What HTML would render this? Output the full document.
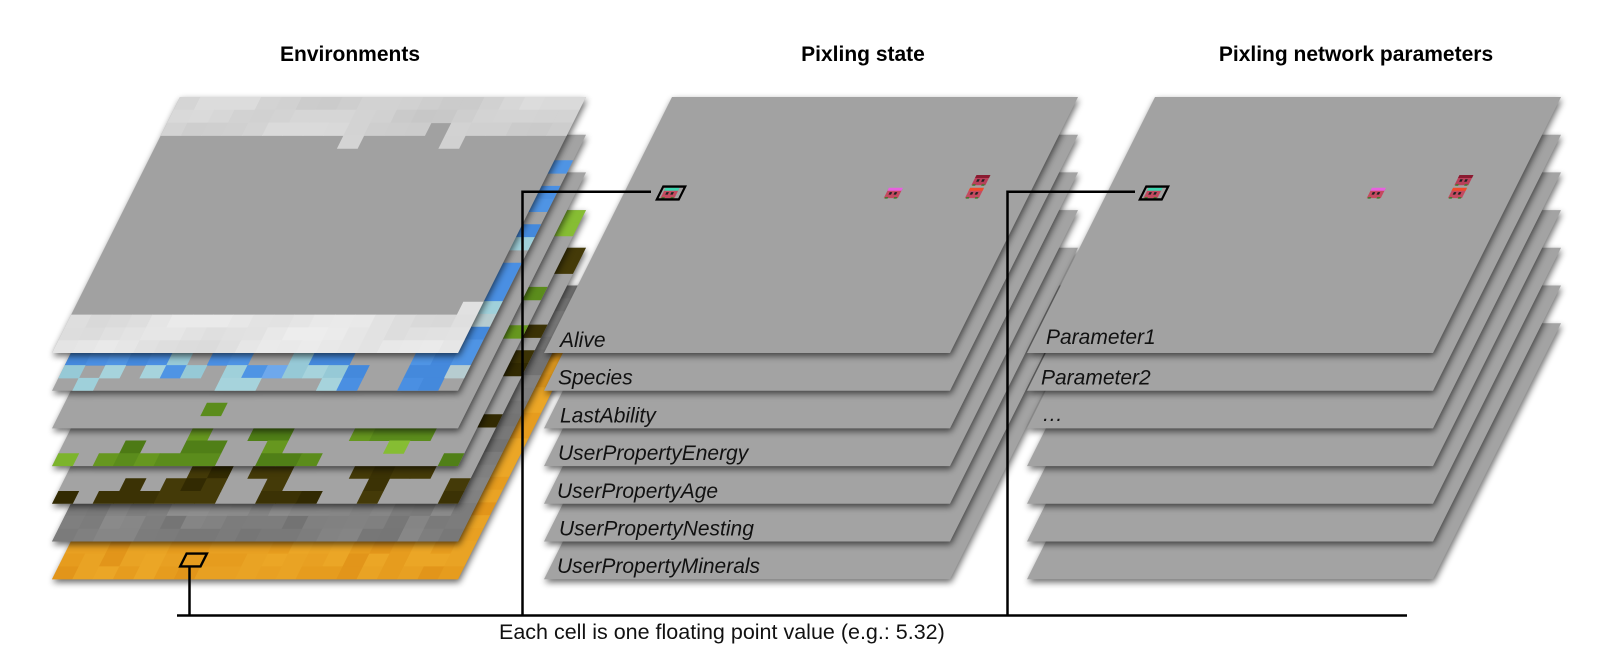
<!DOCTYPE html>
<html><head><meta charset="utf-8">
<style>
html,body{margin:0;padding:0;background:#fff;}
svg{display:block;}
text{font-family:"Liberation Sans",Arial,sans-serif;}
.t{font-weight:bold;font-size:21px;text-anchor:middle;fill:#000;}
.l{font-style:italic;font-size:21px;fill:#111;}
</style></head><body>
<svg width="1600" height="671" viewBox="0 0 1600 671">
<defs>
<filter id="ds" x="-15%" y="-15%" width="135%" height="140%" color-interpolation-filters="sRGB">
<feGaussianBlur in="SourceAlpha" stdDeviation="3.5"/>
<feOffset dx="1" dy="3" result="o"/>
<feComponentTransfer in="o" result="s"><feFuncA type="linear" slope="0.6"/></feComponentTransfer>
<feMerge><feMergeNode in="s"/><feMergeNode in="SourceGraphic"/></feMerge>
</filter>
</defs>
<rect width="1600" height="671" fill="#fff"/>

<!-- Environments stack -->
<g filter="url(#ds)"><g id="e6" transform="matrix(1,0,-0.5,1,180,323.2)"><rect width="406" height="256" fill="#e59e21"/></g></g>
<g filter="url(#ds)"><g id="e5" transform="matrix(1,0,-0.5,1,180,285.5)"><rect width="406" height="256" fill="#7e7e7e"/></g></g>
<g filter="url(#ds)"><g id="e4" transform="matrix(1,0,-0.5,1,180,247.8)"><rect width="406" height="256" fill="#a3a3a3"/></g></g>
<g filter="url(#ds)"><g id="e3" transform="matrix(1,0,-0.5,1,180,210.1)"><rect width="406" height="256" fill="#a3a3a3"/></g></g>
<g filter="url(#ds)"><g id="e2" transform="matrix(1,0,-0.5,1,180,172.4)"><rect width="406" height="256" fill="#a3a3a3"/></g></g>
<g filter="url(#ds)"><g id="e1" transform="matrix(1,0,-0.5,1,180,134.7)"><rect width="406" height="256" fill="#a3a3a3"/></g></g>
<g filter="url(#ds)"><g id="e0" transform="matrix(1,0,-0.5,1,180,97)"><rect width="406" height="256" fill="#a1a1a1"/></g></g>

<!-- Pixling state stack -->
<g filter="url(#ds)"><g transform="matrix(1,0,-0.5,1,672,323.2)"><rect width="406" height="256" fill="#a3a3a3"/></g></g>
<g filter="url(#ds)"><g transform="matrix(1,0,-0.5,1,672,285.5)"><rect width="406" height="256" fill="#a3a3a3"/></g></g>
<g filter="url(#ds)"><g transform="matrix(1,0,-0.5,1,672,247.8)"><rect width="406" height="256" fill="#a3a3a3"/></g></g>
<g filter="url(#ds)"><g transform="matrix(1,0,-0.5,1,672,210.1)"><rect width="406" height="256" fill="#a3a3a3"/></g></g>
<g filter="url(#ds)"><g transform="matrix(1,0,-0.5,1,672,172.4)"><rect width="406" height="256" fill="#a3a3a3"/></g></g>
<g filter="url(#ds)"><g transform="matrix(1,0,-0.5,1,672,134.7)"><rect width="406" height="256" fill="#a3a3a3"/></g></g>
<g filter="url(#ds)"><g id="p0" transform="matrix(1,0,-0.5,1,672,97)"><rect width="406" height="256" fill="#a2a2a2"/>
<rect x="36" y="89.6" width="22" height="12.8" fill="none" stroke="#000" stroke-width="2.4"/></g></g>

<g class="l">
<text class="l" x="560" y="347">Alive</text>
<text class="l" x="558" y="384.7">Species</text>
<text class="l" x="560" y="422.4">LastAbility</text>
<text class="l" x="558" y="460.1">UserPropertyEnergy</text>
<text class="l" x="557" y="497.8">UserPropertyAge</text>
<text class="l" x="559" y="535.5">UserPropertyNesting</text>
<text class="l" x="557" y="573.2">UserPropertyMinerals</text>
</g>

<!-- Pixling network parameters stack -->
<g filter="url(#ds)"><g transform="matrix(1,0,-0.5,1,1155,323.2)"><rect width="406" height="256" fill="#a3a3a3"/></g></g>
<g filter="url(#ds)"><g transform="matrix(1,0,-0.5,1,1155,285.5)"><rect width="406" height="256" fill="#a3a3a3"/></g></g>
<g filter="url(#ds)"><g transform="matrix(1,0,-0.5,1,1155,247.8)"><rect width="406" height="256" fill="#a3a3a3"/></g></g>
<g filter="url(#ds)"><g transform="matrix(1,0,-0.5,1,1155,210.1)"><rect width="406" height="256" fill="#a3a3a3"/></g></g>
<g filter="url(#ds)"><g transform="matrix(1,0,-0.5,1,1155,172.4)"><rect width="406" height="256" fill="#a3a3a3"/></g></g>
<g filter="url(#ds)"><g transform="matrix(1,0,-0.5,1,1155,134.7)"><rect width="406" height="256" fill="#a3a3a3"/></g></g>
<g filter="url(#ds)"><g id="q0" transform="matrix(1,0,-0.5,1,1155,97)"><rect width="406" height="256" fill="#a2a2a2"/>
<rect x="36" y="89.6" width="22" height="12.8" fill="none" stroke="#000" stroke-width="2.4"/></g></g>

<text class="l" x="1046" y="344">Parameter1</text>
<text class="l" x="1041" y="384.5">Parameter2</text>
<text class="l" x="1042" y="421">…</text>

<!-- Titles -->
<text class="t" x="350" y="61">Environments</text>
<text class="t" x="863" y="61">Pixling state</text>
<text class="t" x="1356" y="61">Pixling network parameters</text>

<!-- Env cell marker -->
<polygon points="186.6,553.6 206.9,553.6 200.5,566.4 180.2,566.4" fill="none" stroke="#000" stroke-width="2.4" stroke-linejoin="miter"/>

<!-- Connectors -->
<path d="M189.5 567 V615.5 M177 615.5 H1407 M522.5 615.5 V191.8 H651 M1007.5 615.5 V191.8 H1135" fill="none" stroke="#000" stroke-width="2.5"/>

<text x="499" y="639" font-size="21.5" fill="#111">Each cell is one floating point value (e.g.: 5.32)</text>
</svg>
<script>
(function(){
var CW=20.3,RH=12.8;
function hs(a,b,c){var x=(a*73856093)^(b*19349663)^(c*83492791);x=Math.imul(x^(x>>>15),2246822519|0);x=Math.imul(x^(x>>>13),3266489917|0);x^=x>>>16;return (x>>>0)/4294967296;}
function cell(c,r,col){var x=c*CW,y=r*RH,w=CW+(c<19?0.5:0),h=RH+(r<19?0.5:0);return '<rect x="'+x.toFixed(2)+'" y="'+y.toFixed(2)+'" width="'+w.toFixed(2)+'" height="'+h.toFixed(2)+'" fill="'+col+'"/>';}
function g(v){v=Math.max(0,Math.min(255,Math.round(v)));var s=v.toString(16);if(s.length<2)s='0'+s;return '#'+s+s+s;}
function add(id,html){var el=document.getElementById(id);var box=el.querySelector('rect[stroke]');if(box){box.insertAdjacentHTML('beforebegin',html);}else{el.insertAdjacentHTML('beforeend',html);}}
var r,c,s;
/* layer 0 clouds */
s='';
for(r=0;r<20;r++)for(c=0;c<20;c++){
 var cl=(r<=2&&!(r==2&&c==13))||r>=17||(r==3&&(c==9||c==14))||(r==16&&c==19);
 if(!cl)continue;
 var n=Math.sin(c*0.8+r*1.3)*0.5+Math.sin(c*0.37-r*0.9+1)*0.5;
 var v=(r<10)?(210+10*n+4*(hs(c,r,1)-0.5)):(228+10*n+4*(hs(c,r,2)-0.5));
 s+=cell(c,r,g(v));
}
add('e0',s);
var P={'B':['#4a8fe2','#4f94e4','#4489dc'],'b':['#6ea8ec'],'C':['#9fd0da','#a6d3dc','#96c9d6'],'P':['#b6ccd0'],
'G':['#5b8c1c','#66971f','#507f17'],'g':['#7cb42c','#86bd33'],'d':['#4d7a15'],'D':['#3b3205','#322a02','#443a08']};
var L={
e1:{r:["BBBBBC.BB..CBB...BBB","C.C.CBC.CBbCCCB..BBP",".C......CC...CB..BB."],c:"..B.BB.BC.BBBCPBB"},
e2:{r:["....................",".......G............","...................."],c:"................."},
e3:{r:["......G..GG...GGGG..","...d..GG..G.....g...","g.GGGGGG..GGG......G"],c:"gg....G..G......."},
e4:{r:["......DD.DD...DDDD..","...D.DDD..D....D...D","D.DDDDDD..DDD..D...D"],c:"DD....D.DD...D..."}
};
for(var id in L){
 s='';var d=L[id],k=parseInt(id.charAt(1));
 for(var i=0;i<3;i++)for(c=0;c<20;c++){var ch=d.r[i].charAt(c);if(ch!='.'){var a=P[ch];s+=cell(c,17+i,a[Math.floor(hs(c,17+i,k)*a.length)]);}}
 for(r=0;r<17;r++){var ch2=d.c.charAt(r);if(ch2!='.'){var a2=P[ch2];s+=cell(19,r,a2[Math.floor(hs(19,r,k)*a2.length)]);}}
 add(id,s);
}
/* stone layer */
s='';
for(r=0;r<20;r++)for(c=0;c<20;c++){s+=cell(c,r,g(126+24*(hs(c,r,5)-0.5)+(r==17?6:0)));}
add('e5',s);
/* orange layer */
var O=['#e69c1e','#e9a324','#e2951a','#e8a022','#eba626'];
s='';
for(r=0;r<20;r++)for(c=0;c<20;c++){s+=cell(c,r,O[Math.floor(hs(c,r,6)*O.length)]);}
add('e6',s);
/* sprites */
function sp(u,v,top,body){return '<rect x="'+(u+3)+'" y="'+(v+2.5)+'" width="14" height="9" fill="'+body+'"/>'+
'<rect x="'+(u+3)+'" y="'+(v+1.2)+'" width="14" height="3" fill="'+top+'"/>'+
'<rect x="'+(u+6)+'" y="'+(v+5.5)+'" width="2.5" height="2.5" fill="#222"/>'+
'<rect x="'+(u+11)+'" y="'+(v+5.5)+'" width="2.5" height="2.5" fill="#222"/>'+
'<rect x="'+(u+4)+'" y="'+(v+10.5)+'" width="3" height="1.5" fill="#3a7a2a"/>'+
'<rect x="'+(u+13)+'" y="'+(v+10.5)+'" width="3" height="1.5" fill="#3a7a2a"/>';}
var sprites=sp(36,89.6,'#3dd6b0','#c44a60')+sp(259.3,89.6,'#e860e0','#c44a60')+sp(340.5,76.8,'#8a1a30','#b8405a')+sp(340.5,89.6,'#f04a2a','#c44a60');
add('p0',sprites);
add('q0',sprites);
})();
</script>
</body></html>
